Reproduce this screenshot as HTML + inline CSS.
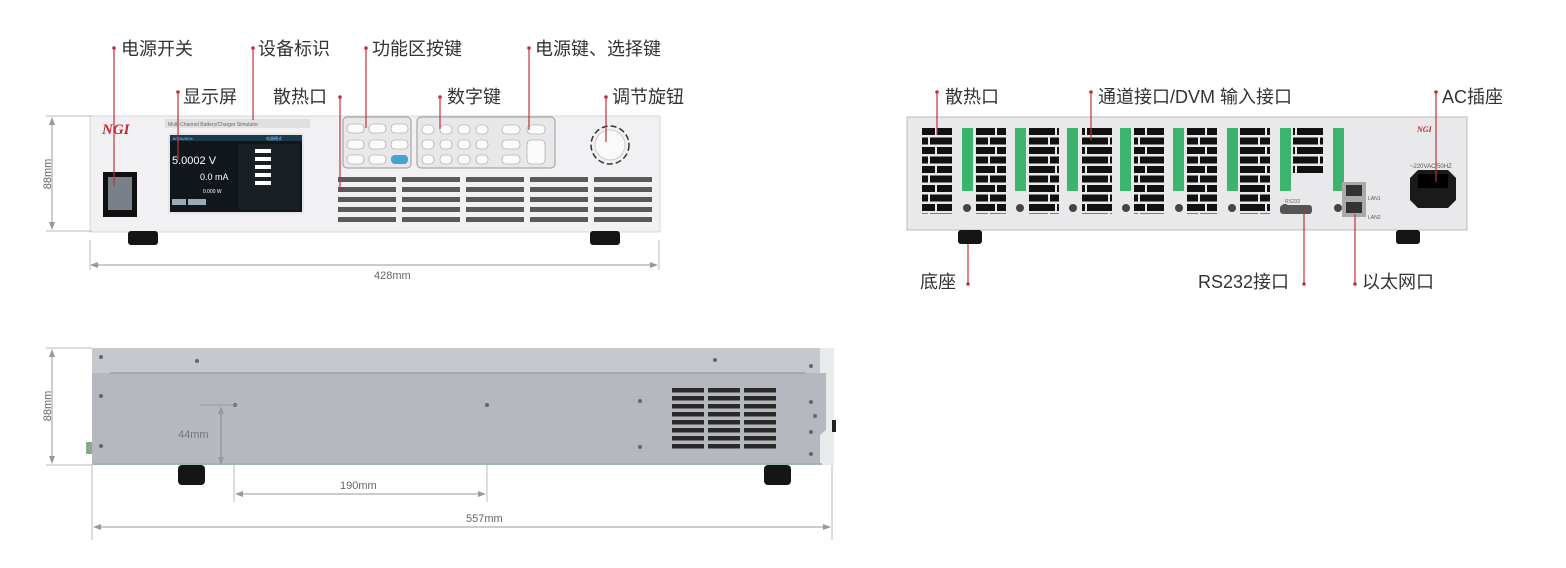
<!DOCTYPE html>
<html><head><meta charset="utf-8"><style>
html,body{margin:0;padding:0;background:#fff;}
svg{display:block;font-family:"Liberation Sans","Noto Sans CJK SC",sans-serif;}
.lb{font-size:18px;fill:#333;font-family:"Liberation Sans","Noto Sans CJK SC",sans-serif;}
.dm{font-size:11px;fill:#666;}
.rl{stroke:#c0313a;stroke-width:1.2;}
</style></head><body>
<svg width="1566" height="568" viewBox="0 0 1566 568" xmlns="http://www.w3.org/2000/svg">
<defs>
<pattern id="fv" x="336" y="177" width="64" height="10" patternUnits="userSpaceOnUse">
<rect x="2" y="0" width="58" height="5" fill="#5a5a5a"/></pattern>
<pattern id="bv" x="922" y="128" width="30" height="19" patternUnits="userSpaceOnUse">
<rect x="0" y="0" width="13" height="7" fill="#111"/><rect x="15" y="0" width="15" height="7" fill="#111"/>
<rect x="0" y="9.5" width="6" height="7" fill="#111"/><rect x="8" y="9.5" width="22" height="7" fill="#111"/></pattern>
<pattern id="sv" x="672" y="388" width="36" height="8" patternUnits="userSpaceOnUse">
<rect x="0" y="0" width="32" height="4.5" fill="#2a2a2a"/></pattern>
<marker id="ar" markerWidth="8" markerHeight="6" refX="7" refY="3" orient="auto-start-reverse" markerUnits="userSpaceOnUse">
<path d="M0 0 L8 3 L0 6 Z" fill="#999"/></marker>
</defs>

<!-- ===== FRONT VIEW ===== -->
<rect x="90" y="116" width="570" height="116" fill="#f1f1f3" stroke="#d8d8da"/>
<rect x="128" y="231" width="30" height="14" rx="3" fill="#151515"/>
<rect x="590" y="231" width="30" height="14" rx="3" fill="#151515"/>
<text x="102" y="134" font-size="15" font-weight="bold" font-style="italic" fill="#c3272b" font-family="Liberation Serif,serif">NGI</text>
<rect x="103" y="172" width="34" height="45" fill="#111"/>
<rect x="108" y="177" width="24" height="33" fill="#7a8088"/>
<rect x="165" y="119" width="145" height="9" fill="#e0e0e2"/>
<text x="168" y="126" font-size="5" fill="#666">Multi-Channel Battery/Charger Simulator</text>
<rect x="168" y="133" width="136" height="81" fill="#e6e6e8"/>
<rect x="170" y="135" width="132" height="77" fill="#10161c"/>
<rect x="170" y="135" width="132" height="6" fill="#1d3a4a"/>
<text x="173" y="140" font-size="4" fill="#8cf">8/12A/8CH</text>
<text x="266" y="140" font-size="4" fill="#8cf">电源模式</text>
<text x="172" y="164" font-size="11" fill="#fff">5.0002  V</text>
<text x="200" y="180" font-size="9" fill="#fff">0.0  mA</text>
<text x="203" y="193" font-size="5" fill="#fff">0.000   W</text>
<rect x="172" y="199" width="14" height="6" fill="#9ab"/><rect x="188" y="199" width="18" height="6" fill="#9ab"/>
<rect x="238" y="144" width="62" height="66" rx="3" fill="#182026"/>
<g fill="#fff"><rect x="255" y="149" width="16" height="4"/><rect x="255" y="157" width="16" height="4"/><rect x="255" y="165" width="16" height="4"/><rect x="255" y="173" width="16" height="4"/><rect x="255" y="181" width="16" height="4"/></g>
<rect x="343" y="117" width="68" height="51" rx="4" fill="#e8e8ea" stroke="#999"/>
<rect x="417" y="117" width="138" height="51" rx="4" fill="#e8e8ea" stroke="#999"/>
<g fill="#fbfbfb" stroke="#999" stroke-width="0.6">
<rect x="347" y="124" width="17" height="9" rx="4"/><rect x="369" y="124" width="17" height="9" rx="4"/><rect x="391" y="124" width="17" height="9" rx="4"/>
<rect x="347" y="140" width="17" height="9" rx="4"/><rect x="369" y="140" width="17" height="9" rx="4"/><rect x="391" y="140" width="17" height="9" rx="4"/>
<rect x="347" y="155" width="17" height="9" rx="4"/><rect x="369" y="155" width="17" height="9" rx="4"/>
<rect x="422" y="125" width="12" height="9" rx="4"/><rect x="440" y="125" width="12" height="9" rx="4"/><rect x="458" y="125" width="12" height="9" rx="4"/><rect x="476" y="125" width="12" height="9" rx="4"/><rect x="502" y="125" width="18" height="9" rx="4"/><rect x="527" y="125" width="18" height="9" rx="4"/>
<rect x="422" y="140" width="12" height="9" rx="4"/><rect x="440" y="140" width="12" height="9" rx="4"/><rect x="458" y="140" width="12" height="9" rx="4"/><rect x="476" y="140" width="12" height="9" rx="4"/><rect x="502" y="140" width="18" height="9" rx="4"/>
<rect x="422" y="155" width="12" height="9" rx="4"/><rect x="440" y="155" width="12" height="9" rx="4"/><rect x="458" y="155" width="12" height="9" rx="4"/><rect x="476" y="155" width="12" height="9" rx="4"/><rect x="502" y="155" width="18" height="9" rx="4"/>
<rect x="527" y="140" width="18" height="24" rx="4"/>
</g>
<rect x="391" y="155" width="17" height="9" rx="4" fill="#4aa0d0"/>
<circle cx="610" cy="145" r="19" fill="none" stroke="#333" stroke-width="1.5" stroke-dasharray="6 3"/>
<circle cx="610" cy="145" r="15" fill="#fafafa" stroke="#ccc"/>
<rect x="336" y="177" width="320" height="48" fill="url(#fv)"/>
<line x1="52" y1="118" x2="52" y2="229" stroke="#999" marker-start="url(#ar)" marker-end="url(#ar)"/>
<line x1="46" y1="116" x2="92" y2="116" stroke="#bbb"/><line x1="46" y1="231" x2="92" y2="231" stroke="#bbb"/>
<text class="dm" transform="translate(51,174) rotate(-90)" text-anchor="middle">88mm</text>
<line x1="91" y1="265" x2="657" y2="265" stroke="#999" marker-start="url(#ar)" marker-end="url(#ar)"/>
<line x1="90" y1="240" x2="90" y2="270" stroke="#bbb"/><line x1="659" y1="240" x2="659" y2="270" stroke="#bbb"/>
<text class="dm" x="374" y="279">428mm</text>
<g class="rl">
<line x1="114" y1="48" x2="114" y2="186"/><line x1="253" y1="48" x2="253" y2="120"/><line x1="366" y1="48" x2="366" y2="128"/><line x1="529" y1="48" x2="529" y2="130"/>
<line x1="178" y1="92" x2="178" y2="160"/><line x1="340" y1="97" x2="340" y2="190"/><line x1="440" y1="97" x2="440" y2="129"/><line x1="606" y1="97" x2="606" y2="142"/>
</g>
<g fill="#c0313a">
<circle cx="114" cy="48" r="1.8"/><circle cx="253" cy="48" r="1.8"/><circle cx="366" cy="48" r="1.8"/><circle cx="529" cy="48" r="1.8"/>
<circle cx="178" cy="92" r="1.8"/><circle cx="340" cy="97" r="1.8"/><circle cx="440" cy="97" r="1.8"/><circle cx="606" cy="97" r="1.8"/>
<circle cx="937" cy="92" r="1.8"/><circle cx="1091" cy="92" r="1.8"/><circle cx="1436" cy="92" r="1.8"/>
<circle cx="968" cy="284" r="1.8"/><circle cx="1304" cy="284" r="1.8"/><circle cx="1355" cy="284" r="1.8"/>
</g>
<text class="lb" x="121" y="55">电源开关</text>
<text class="lb" x="258" y="55">设备标识</text>
<text class="lb" x="372" y="55">功能区按键</text>
<text class="lb" x="535" y="55">电源键、选择键</text>
<text class="lb" x="183" y="103">显示屏</text>
<text class="lb" x="273" y="103">散热口</text>
<text class="lb" x="447" y="103">数字键</text>
<text class="lb" x="612" y="103">调节旋钮</text>

<!-- ===== BACK VIEW ===== -->
<rect x="907" y="117" width="560" height="113" fill="#e9e9eb" stroke="#bbb"/>
<rect x="958" y="230" width="24" height="14" rx="3" fill="#151515"/>
<rect x="1396" y="230" width="24" height="14" rx="3" fill="#151515"/>
<rect x="922" y="128" width="30" height="86" fill="url(#bv)"/>
<rect x="976" y="128" width="30" height="86" fill="url(#bv)"/>
<rect x="1029" y="128" width="30" height="86" fill="url(#bv)"/>
<rect x="1082" y="128" width="30" height="86" fill="url(#bv)"/>
<rect x="1134" y="128" width="30" height="86" fill="url(#bv)"/>
<rect x="1187" y="128" width="30" height="86" fill="url(#bv)"/>
<rect x="1240" y="128" width="30" height="86" fill="url(#bv)"/>
<rect x="1293" y="128" width="30" height="47" fill="url(#bv)"/>
<g fill="#3cb46e">
<rect x="962" y="128" width="11" height="63"/><rect x="1015" y="128" width="11" height="63"/><rect x="1067" y="128" width="11" height="63"/><rect x="1120" y="128" width="11" height="63"/><rect x="1173" y="128" width="11" height="63"/><rect x="1227" y="128" width="11" height="63"/><rect x="1280" y="128" width="11" height="63"/><rect x="1333" y="128" width="11" height="63"/>
</g>
<g fill="#444">
<circle cx="967" cy="208" r="4"/><circle cx="1020" cy="208" r="4"/><circle cx="1073" cy="208" r="4"/><circle cx="1126" cy="208" r="4"/><circle cx="1179" cy="208" r="4"/><circle cx="1232" cy="208" r="4"/><circle cx="1285" cy="208" r="4"/><circle cx="1338" cy="208" r="4"/>
</g>
<rect x="1280" y="205" width="32" height="9" rx="3" fill="#555"/>
<text x="1285" y="203" font-size="5" fill="#666">RS232</text>
<rect x="1342" y="182" width="24" height="35" fill="#aaa"/>
<rect x="1346" y="185" width="16" height="11" fill="#333"/><rect x="1346" y="202" width="16" height="11" fill="#333"/>
<text x="1368" y="200" font-size="5" fill="#555">LAN1</text><text x="1368" y="219" font-size="5" fill="#555">LAN2</text>
<text x="1417" y="132" font-size="8" font-weight="bold" font-style="italic" fill="#c3272b" font-family="Liberation Serif,serif">NGI</text>
<text x="1410" y="168" font-size="6" fill="#555">~220VAC/50HZ</text>
<path d="M1410 178 L1418 170 L1448 170 L1456 178 L1456 200 L1448 208 L1418 208 L1410 200 Z" fill="#1a1a1a"/>
<rect x="1418" y="174" width="30" height="14" fill="#000"/>
<g class="rl">
<line x1="937" y1="92" x2="937" y2="135"/><line x1="1091" y1="92" x2="1091" y2="140"/><line x1="1436" y1="92" x2="1436" y2="182"/>
<line x1="968" y1="244" x2="968" y2="284"/><line x1="1304" y1="210" x2="1304" y2="284"/><line x1="1355" y1="214" x2="1355" y2="284"/>
</g>
<text class="lb" x="945" y="103">散热口</text>
<text class="lb" x="1098" y="103">通道接口/DVM 输入接口</text>
<text class="lb" x="1442" y="103">AC插座</text>
<text class="lb" x="920" y="288">底座</text>
<text class="lb" x="1198" y="288">RS232接口</text>
<text class="lb" x="1362" y="288">以太网口</text>

<!-- ===== SIDE VIEW ===== -->
<rect x="92" y="348" width="740" height="25" fill="#c5c8cd"/>
<rect x="820" y="348" width="14" height="117" fill="#e9eaec"/>
<path d="M92 373 L826 373 L826 430 L820 435 L820 465 L92 465 Z" fill="#b5b9bf"/>
<line x1="110" y1="373" x2="805" y2="373" stroke="#8a8d92"/>
<rect x="92" y="463" width="730" height="2" fill="#9fb8a8"/>
<rect x="178" y="465" width="27" height="20" rx="4" fill="#151515"/>
<rect x="764" y="465" width="27" height="20" rx="4" fill="#151515"/>
<rect x="86" y="442" width="6" height="12" fill="#8a8"/>
<rect x="832" y="420" width="4" height="12" fill="#222"/>
<rect x="672" y="388" width="108" height="64" fill="url(#sv)"/>
<g fill="#666">
<circle cx="101" cy="357" r="2"/><circle cx="197" cy="361" r="2"/><circle cx="715" cy="360" r="2"/><circle cx="811" cy="366" r="2"/>
<circle cx="101" cy="396" r="2"/><circle cx="235" cy="405" r="2"/><circle cx="487" cy="405" r="2"/><circle cx="640" cy="401" r="2"/><circle cx="811" cy="402" r="2"/><circle cx="815" cy="416" r="2"/>
<circle cx="101" cy="446" r="2"/><circle cx="640" cy="447" r="2"/><circle cx="811" cy="432" r="2"/><circle cx="811" cy="454" r="2"/>
</g>
<line x1="200" y1="405" x2="236" y2="405" stroke="#999"/>
<line x1="221" y1="407" x2="221" y2="464" stroke="#888" marker-start="url(#ar)" marker-end="url(#ar)"/>
<text x="178" y="438" font-size="11" fill="#777">44mm</text>
<line x1="234" y1="465" x2="234" y2="502" stroke="#bbb"/><line x1="487" y1="465" x2="487" y2="502" stroke="#bbb"/>
<line x1="236" y1="494" x2="485" y2="494" stroke="#999" marker-start="url(#ar)" marker-end="url(#ar)"/>
<text class="dm" x="340" y="489">190mm</text>
<line x1="52" y1="350" x2="52" y2="463" stroke="#999" marker-start="url(#ar)" marker-end="url(#ar)"/>
<line x1="46" y1="348" x2="92" y2="348" stroke="#bbb"/><line x1="46" y1="465" x2="92" y2="465" stroke="#bbb"/>
<text class="dm" transform="translate(51,406) rotate(-90)" text-anchor="middle">88mm</text>
<line x1="92" y1="465" x2="92" y2="540" stroke="#bbb"/><line x1="832" y1="465" x2="832" y2="540" stroke="#bbb"/>
<line x1="94" y1="527" x2="830" y2="527" stroke="#999" marker-start="url(#ar)" marker-end="url(#ar)"/>
<text class="dm" x="466" y="522">557mm</text>
</svg>
</body></html>
